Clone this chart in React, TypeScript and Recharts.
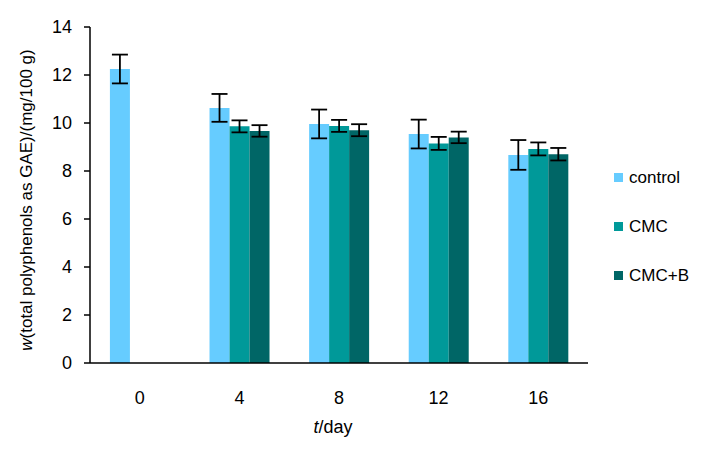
import { BarChart, Bar, XAxis, YAxis, ErrorBar } from "recharts";

const days = ["0", "4", "8", "12", "16"];
const control = [12.25, 10.63, 9.96, 9.54, 8.67];
const controlErr = [0.6, 0.58, 0.6, 0.6, 0.62];
const cmc = [null, 9.86, 9.88, 9.15, 8.92];
const cmcErr = [null, 0.25, 0.25, 0.27, 0.27];
const cmcB = [null, 9.67, 9.7, 9.4, 8.7];
const cmcBErr = [null, 0.24, 0.25, 0.24, 0.26];
const yTicks = [0, 2, 4, 6, 8, 10, 12, 14];

const seriesInfo = [
  { key: "control", name: "control", color: "#66CCFF" },
  { key: "cmc", name: "CMC", color: "#009999" },
  { key: "cmcB", name: "CMC+B", color: "#006666" },
];

const data = days.map((d, i) => ({
  day: d,
  control: control[i],
  controlErr: controlErr[i],
  cmc: cmc[i],
  cmcErr: cmcErr[i],
  cmcB: cmcB[i],
  cmcBErr: cmcBErr[i],
}));

const FONT = "'Liberation Sans', Arial, sans-serif";

// legend drawn as a plain overlay so it does not shrink the plot area
const LegendBox = () => (
  <div
    style={{
      position: "absolute",
      left: 614,
      top: 153,
      fontFamily: FONT,
      fontSize: 17,
      color: "#000",
    }}
  >
    {seriesInfo.map((s) => (
      <div key={s.key} style={{ display: "flex", alignItems: "center", height: 49 }}>
        <div style={{ width: 9, height: 9, background: s.color, marginRight: 6 }} />
        <span>{s.name}</span>
      </div>
    ))}
  </div>
);

const App = () => {
  return (
    <div style={{ width: 720, height: 456, position: "relative", background: "#fff" }}>
      <style>{`body{margin:0}`}</style>
      <BarChart
        width={720}
        height={456}
        data={data}
        margin={{ top: 27, right: 132, bottom: 43, left: 40 }}
        barCategoryGap="20%"
        barGap={0}
      >
        <XAxis
          dataKey="day"
          height={50}
          tickLine={false}
          tickSize={0}
          tickMargin={28}
          axisLine={{ stroke: "#000", strokeWidth: 1.5 }}
          tick={{ fill: "#000", fontSize: 18, fontFamily: FONT }}
          label={{
            value: "t/day",
            content: () => (
              <text x={333} y={433} textAnchor="middle" fontFamily={FONT} fontSize={18} fill="#000">
                <tspan fontStyle="italic">t</tspan>/day
              </text>
            ),
          }}
        />
        <YAxis
          width={50}
          domain={[0, 14]}
          ticks={yTicks}
          interval={0}
          tickSize={6}
          tickMargin={12}
          axisLine={{ stroke: "#000", strokeWidth: 1.5 }}
          tickLine={{ stroke: "#000", strokeWidth: 1.5 }}
          tick={{ fill: "#000", fontSize: 18, fontFamily: FONT }}
          label={{
            value: "w",
            content: () => (
              <text
                x={0}
                y={0}
                transform="translate(32,200) rotate(-90)"
                textAnchor="middle"
                fontFamily={FONT}
                fontSize={17}
                fill="#000"
              >
                <tspan fontStyle="italic">w</tspan>(total polyphenols as GAE)/(mg/100 g)
              </text>
            ),
          }}
        />
        {seriesInfo.map((s) => (
          <Bar key={s.key} dataKey={s.key} name={s.name} fill={s.color} isAnimationActive={false}>
            <ErrorBar
              dataKey={s.key + "Err"}
              width={8}
              stroke="#000"
              strokeWidth={1.8}
              direction="y"
              isAnimationActive={false}
            />
          </Bar>
        ))}
      </BarChart>
      <LegendBox />
    </div>
  );
};

export default App;
